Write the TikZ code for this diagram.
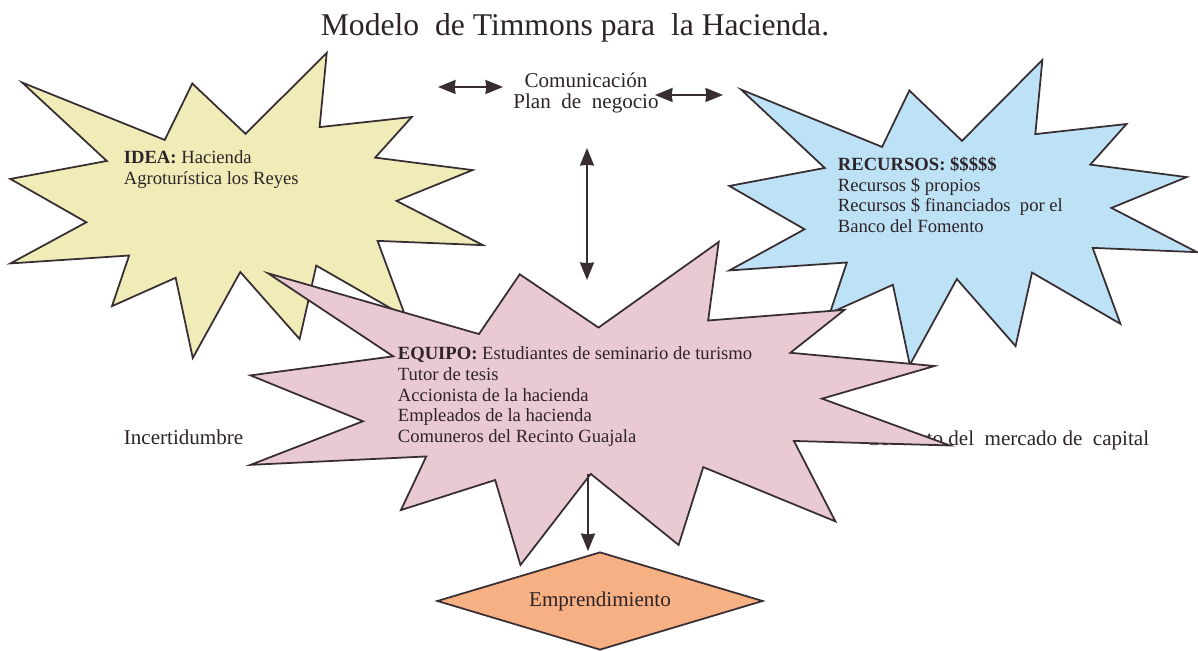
\documentclass[tikz,border=0pt]{standalone}
\usepackage{fontspec}
\setmainfont{Liberation Serif}
\usetikzlibrary{arrows.meta,shapes.geometric}

\definecolor{ideafill}{RGB}{240,236,184}
\definecolor{recfill}{RGB}{190,226,245}
\definecolor{eqfill}{RGB}{233,202,210}
\definecolor{empfill}{RGB}{246,176,132}
\definecolor{linecol}{RGB}{55,45,50}
\definecolor{txtcol}{RGB}{45,35,40}

% explosion outline in a unit box (x right, y down)
\def\explosion{(0.03,0.097) -- (0.33,0.285) -- (0.388,0.10) -- (0.50,0.265) -- (0.671,0) -- (0.656,0.243)
  -- (0.85,0.21) -- (0.773,0.343) -- (0.978,0.384) -- (0.818,0.485) -- (1,0.63) -- (0.778,0.616)
  -- (0.837,0.865) -- (0.649,0.697) -- (0.614,0.938) -- (0.489,0.718) -- (0.389,1) -- (0.353,0.737)
  -- (0.219,0.83) -- (0.255,0.664) -- (0.005,0.69) -- (0.165,0.555) -- (0.005,0.413) -- (0.208,0.354) -- cycle}

\begin{document}
\begin{tikzpicture}[x=0.02cm,y=-0.02cm,line width=1pt,
    txt/.style={text=txtcol,inner sep=0pt,align=left},
    small/.style={font=\fontsize{10.6}{11.8}\selectfont},
    big/.style={font=\fontsize{12}{11.9}\selectfont},
    arr/.style={draw=linecol,-{Stealth[length=10pt,width=8pt,inset=0.5pt]}},
    darr/.style={draw=linecol,{Stealth[length=10pt,width=8pt,inset=0.5pt]}-{Stealth[length=10pt,width=8pt,inset=0.5pt]}}]
  \useasboundingbox (0,0) rectangle (1198,651);
  \node[txt,anchor=base,font=\fontsize{18}{20}\selectfont] (title) at (575,36) {Modelo\ \ de Timmons para\ \ la Hacienda.};
  \node[txt,big,align=center,anchor=north] (plan) at (586,72) {Comunicación\\Plan\ \ de\ \ negocio};
  \node[txt,big,anchor=base west] (inc) at (123,445) {Incertidumbre};
  \node[txt,big,anchor=base east] (ctx) at (1150,446) {Contexto del\ \ mercado de\ \ capital};
  %
  \foreach \px/\py/\w/\h/\col in {8/53/475/305/ideafill, 727/60/470/305/recfill, 247/242/703/323/eqfill}
  {	\filldraw[draw=linecol,fill=\col,shift={(\px,\py)},xscale=\w,yscale=\h] \explosion;
  }
  \node[txt,small,anchor=north west] (idea) at (123,150) {\textbf{IDEA:} Hacienda\\Agroturística los Reyes};
  \node[txt,small,anchor=north west] (rec) at (837,156) {\textbf{RECURSOS: \$\$\$\$\$}\\Recursos \$ propios\\Recursos \$ financiados\ \ por el\\Banco del Fomento};
  \node[txt,small,anchor=north west] (eq) at (397,346) {\textbf{EQUIPO:} Estudiantes de seminario de turismo\\Tutor de tesis\\Accionista de la hacienda\\Empleados de la hacienda\\Comuneros del Recinto Guajala};
  \node[draw=linecol,fill=empfill,shape=diamond,aspect=3.33,minimum width=6.52cm,minimum height=1.96cm,
    inner sep=0pt,text=txtcol,font=\fontsize{12}{14}\selectfont] (emp) at (600,601) {Emprendimiento};
  %
  \coordinate (la) at (438,87);  \coordinate (lb) at (503,87);
  \coordinate (ra) at (655,95);  \coordinate (rb) at (723,95);
  \coordinate (va) at (587,148); \coordinate (vb) at (587,280);
  \coordinate (eqdown) at (588,474);
  \def\list {la/lb, ra/rb, va/vb}  % list elements
  \foreach \u/\v in \list
  {	\draw[darr] (\u) -- (\v);
  }
  \draw[arr] (eqdown) -- (eqdown |- emp.north);
\end{tikzpicture}
\end{document}
